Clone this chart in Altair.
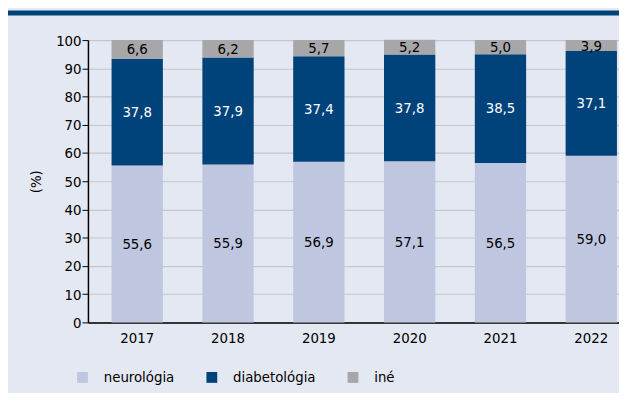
import altair as alt
import pandas as pd

years = ["2017", "2018", "2019", "2020", "2021", "2022"]
neurologia = [55.6, 55.9, 56.9, 57.1, 56.5, 59.0]
diabetologia = [37.8, 37.9, 37.4, 37.8, 38.5, 37.1]
ine = [6.6, 6.2, 5.7, 5.2, 5.0, 3.9]
categories = ["neurológia", "diabetológia", "iné"]
colors = ["#BFC7E0", "#00427A", "#A7A6A8"]
text_colors = ["black", "white", "black"]
y_ticks = [0, 10, 20, 30, 40, 50, 60, 70, 80, 90, 100]

rows = []
for i, y in enumerate(years):
    base = 0.0
    for k, (cat, vals) in enumerate(zip(categories, [neurologia, diabetologia, ine])):
        v = vals[i]
        top = min(base + v, 100.0)
        rows.append({
            "year": y, "cat": cat, "order": k, "value": v,
            "mid": (base + top) / 2,
            "label": f"{v:.1f}".replace(".", ","),
            "tcolor": text_colors[k],
        })
        base += v
df = pd.DataFrame(rows)

FONT = "DejaVu Sans Condensed, Open Sans, sans-serif"
FS = 15

xscale = alt.Scale(paddingInner=0.435, paddingOuter=0.1413, align=0.92, round=False)
yscale = alt.Scale(domain=[0, 100], nice=False)

xaxis = alt.Axis(title=None, labelAngle=0, ticks=False, domainColor="black",
                 domainWidth=1.5, labelFontSize=FS, labelPadding=8,
                 labelColor="black", labelFont=FONT, grid=False)
yaxis = alt.Axis(title="(%)", values=y_ticks, tickSize=6,
                 tickColor="black", domainColor="black", domainWidth=1.5,
                 labelFontSize=FS, labelFont=FONT, labelColor="black",
                 labelPadding=1, labelOverlap=False,
                 titleFontSize=FS, titleFont=FONT,
                 titleFontWeight="normal", titleColor="black", titlePadding=12,
                 gridColor="#C6C6C6", gridWidth=1.2)

bars = alt.Chart(df).mark_bar().encode(
    x=alt.X("year:N", scale=xscale, sort=years, axis=xaxis),
    y=alt.Y("value:Q", stack="zero", scale=yscale, axis=yaxis),
    color=alt.Color("cat:N", scale=alt.Scale(domain=categories, range=colors),
                    sort=categories,
                    legend=alt.Legend(title=None, orient="none", direction="horizontal",
                                      legendX=-13, legendY=334, symbolType="square",
                                      symbolSize=120, symbolStrokeWidth=0,
                                      labelFontSize=FS, labelFont=FONT, labelColor="black",
                                      labelOffset=14, columnPadding=30, symbolOpacity=1)),
    order=alt.Order("order:Q"),
)

texts = alt.Chart(df).mark_text(fontSize=FS, font=FONT, baseline="middle").encode(
    x=alt.X("year:N", scale=xscale, sort=years, axis=xaxis),
    y=alt.Y("mid:Q", scale=yscale, axis=yaxis),
    text="label:N",
    color=alt.Color("tcolor:N", scale=None),
)

band = alt.Chart(alt.Data(values=[{"a": 1}])).mark_rect(color="#00427A").encode(
    x=alt.value(-81), x2=alt.value(560), y=alt.value(-30), y2=alt.value(-25)
)

chart = alt.layer(band, bars, texts).properties(
    width=538, height=286,
    autosize=alt.AutoSizeParams(type="none"),
    padding={"left": 81, "top": 30, "right": 0, "bottom": 69},
    background="#E4E8F2",
).configure_view(stroke=None)

chart.save("out.html", embed_options={"renderer": "svg", "actions": False})
